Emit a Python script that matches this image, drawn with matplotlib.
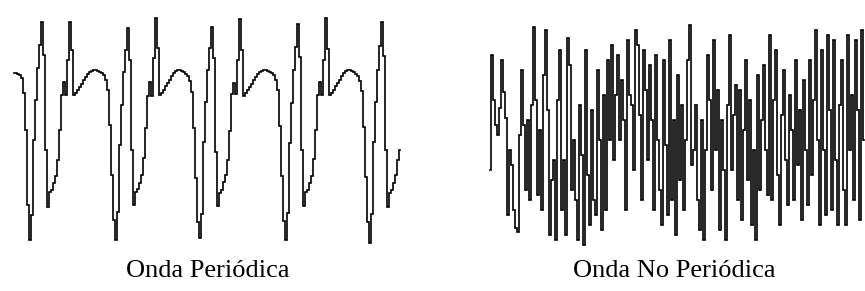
import matplotlib
matplotlib.use("Agg")
import matplotlib.pyplot as plt
import numpy as np

# ---- data (levels; larger value = lower on screen) ----
periodic_lead = [73, 73, 74, 75, 78, 93, 130, 205]
periodic_p1 = [240, 215, 140, 100, 68, 45, 22, 55, 150, 207, 192, 190, 183, 176, 160, 130, 95, 82,
               95, 60, 22, 50, 95, 93, 90, 87, 84, 80, 77, 74, 72, 71, 70, 70, 71, 72, 73, 75, 80,
               90, 125, 175, 220]
periodic_p2 = [240, 212, 145, 105, 72, 50, 28, 60, 150, 205, 192, 189, 183, 175, 158, 128, 96, 82,
               96, 58, 18, 48, 95, 93, 90, 86, 83, 80, 76, 73, 71, 70, 70, 71, 72, 74, 76, 81,
               92, 128, 178, 222]
periodic_p3 = [238, 214, 142, 102, 70, 48, 27, 58, 152, 206, 193, 190, 182, 175, 160, 131, 94, 83,
               94, 60, 19, 50, 96, 93, 90, 87, 84, 80, 77, 74, 72, 71, 70, 70, 71, 72, 73, 75, 80,
               90, 126, 176, 221]
periodic_p4 = [240, 213, 143, 103, 70, 47, 24, 57, 150, 206, 192, 190, 183, 176, 159, 130, 95, 82,
               95, 60, 18, 49, 95, 93, 90, 86, 83, 80, 76, 73, 71, 70, 70, 71, 72, 74, 76, 81,
               91, 127, 177, 222]
periodic_tail = [243, 214, 142, 102, 70, 46, 22, 56, 150, 207, 193, 190, 183, 175, 160, 150]

nonperiodic = [170, 55, 100, 125, 135, 108, 60, 92, 118, 215,
               150, 165, 210, 228, 232, 135, 70, 125, 190, 120,
               200, 105, 27, 100, 195, 130, 210, 75, 30, 110,
               235, 180, 160, 240, 100, 50, 210, 160, 235, 38,
               65, 190, 140, 200, 240, 105, 155, 245, 50, 175,
               225, 110, 200, 215, 70, 140, 230, 95, 210, 60,
               140, 45, 160, 95, 55, 140, 80, 120, 210, 40,
               95, 105, 170, 30, 45, 115, 200, 50, 90, 160,
               65, 120, 210, 55, 140, 190, 225, 60, 145, 215,
               40, 200, 120, 235, 75, 180, 105, 210, 140, 60,
               25, 165, 150, 105, 200, 230, 120, 240, 150, 55,
               100, 190, 40, 150, 90, 230, 120, 170, 240, 105,
               35, 170, 115, 85, 200, 90, 220, 130, 60, 180,
               100, 225, 150, 240, 75, 190, 120, 65, 150, 195,
               35, 200, 100, 50, 175, 225, 115, 70, 160, 205,
               95, 130, 200, 60, 165, 110, 220, 80, 150, 205,
               60, 175, 100, 30, 140, 225, 50, 150, 215, 35,
               110, 210, 40, 160, 225, 105, 60, 190, 225, 35,
               150, 95, 200, 40, 110, 220, 30, 140]

labels = ["Onda Periódica", "Onda No Periódica"]

periodic = (periodic_lead + periodic_p1 + periodic_p2 + periodic_p3 +
            periodic_p4 + periodic_tail)

W, H = 865, 291
fig = plt.figure(figsize=(W / 100, H / 100), dpi=100)
fig.patch.set_facecolor("white")


def wave_axes(values, x0_px, step_px):
    n = len(values)
    left = (x0_px - step_px / 2) / W
    width = n * step_px / W
    ax = fig.add_axes([left, (H - 250) / H, width, 250 / H])
    ax.plot(np.arange(n), values, drawstyle="steps-mid", color="black",
            linewidth=1.2, solid_joinstyle="miter")
    ax.set_xlim(-0.5, n - 0.5)
    ax.set_ylim(250, 0)
    ax.axis("off")
    return ax


wave_axes(periodic, 14, 2)
wave_axes(nonperiodic, 490, 2)

fig.text(208 / W, 1 - 271 / H, labels[0], ha="center", va="center",
         fontsize=19, family="Liberation Serif", color="black")
fig.text(674 / W, 1 - 271 / H, labels[1], ha="center", va="center",
         fontsize=19, family="Liberation Serif", color="black")

fig.savefig("out.png", dpi=100, facecolor="white")
